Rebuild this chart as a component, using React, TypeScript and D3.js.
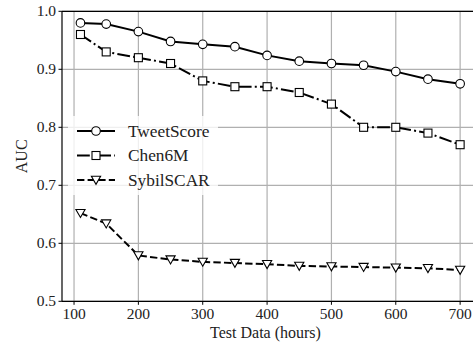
import React from "react";
import * as d3 from "d3";

const hours = [110, 150, 200, 250, 300, 350, 400, 450, 500, 550, 600, 650, 700];
const tweetScore = [0.98, 0.978, 0.965, 0.948, 0.943, 0.939, 0.924, 0.914, 0.91, 0.907, 0.896, 0.883, 0.875];
const chen6M = [0.96, 0.93, 0.92, 0.91, 0.88, 0.87, 0.87, 0.86, 0.84, 0.8, 0.8, 0.79, 0.77];
const sybilSCAR = [0.652, 0.634, 0.579, 0.572, 0.568, 0.566, 0.564, 0.561, 0.56, 0.559, 0.558, 0.557, 0.554];
const xTicks = [100, 200, 300, 400, 500, 600, 700];
const yTicks = [0.5, 0.6, 0.7, 0.8, 0.9, 1.0];
const seriesNames = ["TweetScore", "Chen6M", "SybilSCAR"];

const W = 473, H = 348;
const L = 62, T = 11.3, R = 473, B = 301.3;
const FONT = "Liberation Serif, DejaVu Serif, serif";

function Marker({ kind, x, y }: { kind: string; x: number; y: number }) {
  if (kind === "circle") return <circle cx={x} cy={y} r={4.3} fill="white" stroke="black" strokeWidth={1.1} />;
  if (kind === "square") return <rect x={x - 4} y={y - 4} width={8} height={8} fill="white" stroke="black" strokeWidth={1.1} />;
  const s = 4.6;
  return <path d={`M${x - s},${y - s * 0.8} L${x + s},${y - s * 0.8} L${x},${y + s * 0.95} Z`} fill="white" stroke="black" strokeWidth={1.1} />;
}

export default function App() {
  const x = d3.scaleLinear().domain([81.3, 720]).range([L, R]);
  const y = d3.scaleLinear().domain([0.5, 1.0]).range([B, T]);
  const line = d3.line<number>().x((_, i) => x(hours[i])).y((d) => y(d));
  const series = [
    { name: seriesNames[0], data: tweetScore, dash: "none", marker: "circle" },
    { name: seriesNames[1], data: chen6M, dash: "12.8,3.2,2,3.2", marker: "square" },
    { name: seriesNames[2], data: sybilSCAR, dash: "7.4,3.2", marker: "triangle" },
  ];
  const txt = { fontFamily: FONT };
  return (
    <svg width={W} height={H} style={{ position: "absolute", left: 0, top: 0, fontFamily: FONT }}>
      <rect width={W} height={H} fill="white" />
      <g>
        {xTicks.map((t) => (
          <line key={"gx" + t} x1={x(t)} x2={x(t)} y1={T} y2={B} stroke="#b0b0b0" strokeWidth={1.2} />
        ))}
        {yTicks.map((t) => (
          <line key={"gy" + t} x1={L} x2={R} y1={y(t)} y2={y(t)} stroke="#b0b0b0" strokeWidth={1.2} />
        ))}
      </g>
      <rect x={68} y={116} width={150} height={79} fill="white" opacity={0.8} />
      {series.map((s) => (
        <g key={s.name}>
          <path d={line(s.data) || ""} fill="none" stroke="black" strokeWidth={2} strokeDasharray={s.dash} />
          {s.data.map((v, i) => (
            <Marker key={i} kind={s.marker} x={x(hours[i])} y={y(v)} />
          ))}
        </g>
      ))}
      <line x1={L} x2={R} y1={T} y2={T} stroke="black" strokeWidth={1.2} />
      <line x1={L} x2={R} y1={B} y2={B} stroke="black" strokeWidth={1.2} />
      <line x1={L} x2={L} y1={T} y2={B} stroke="black" strokeWidth={1.2} />
      {xTicks.map((t) => (
        <g key={"tx" + t}>
          <line x1={x(t)} x2={x(t)} y1={B} y2={B + 3.5} stroke="black" strokeWidth={1} />
          <text x={x(t)} y={B + 18} textAnchor="middle" fontSize={15.5} fill="#222" style={txt}>{t}</text>
        </g>
      ))}
      {yTicks.map((t) => (
        <g key={"ty" + t}>
          <line x1={L - 3.5} x2={L} y1={y(t)} y2={y(t)} stroke="black" strokeWidth={1} />
          <text x={L - 6} y={y(t) + 5} textAnchor="end" fontSize={15.5} fill="#222" style={txt}>{t.toFixed(1)}</text>
        </g>
      ))}
      <text x={(L + R) / 2 - 2} y={338} textAnchor="middle" fontSize={16} fill="#222" style={txt}>Test Data (hours)</text>
      <text transform={`translate(27,${(T + B) / 2}) rotate(-90)`} textAnchor="middle" fontSize={16} fill="#222" style={txt}>AUC</text>
      {series.map((s, i) => {
        const ly = 131 + i * 24.5;
        return (
          <g key={"lg" + s.name}>
            <line x1={77} x2={115} y1={ly} y2={ly} stroke="black" strokeWidth={2} strokeDasharray={s.dash} />
            <Marker kind={s.marker} x={96} y={ly} />
            <text x={128} y={ly + 5.5} fontSize={17.3} fill="#222" style={txt}>{s.name}</text>
          </g>
        );
      })}
    </svg>
  );
}
